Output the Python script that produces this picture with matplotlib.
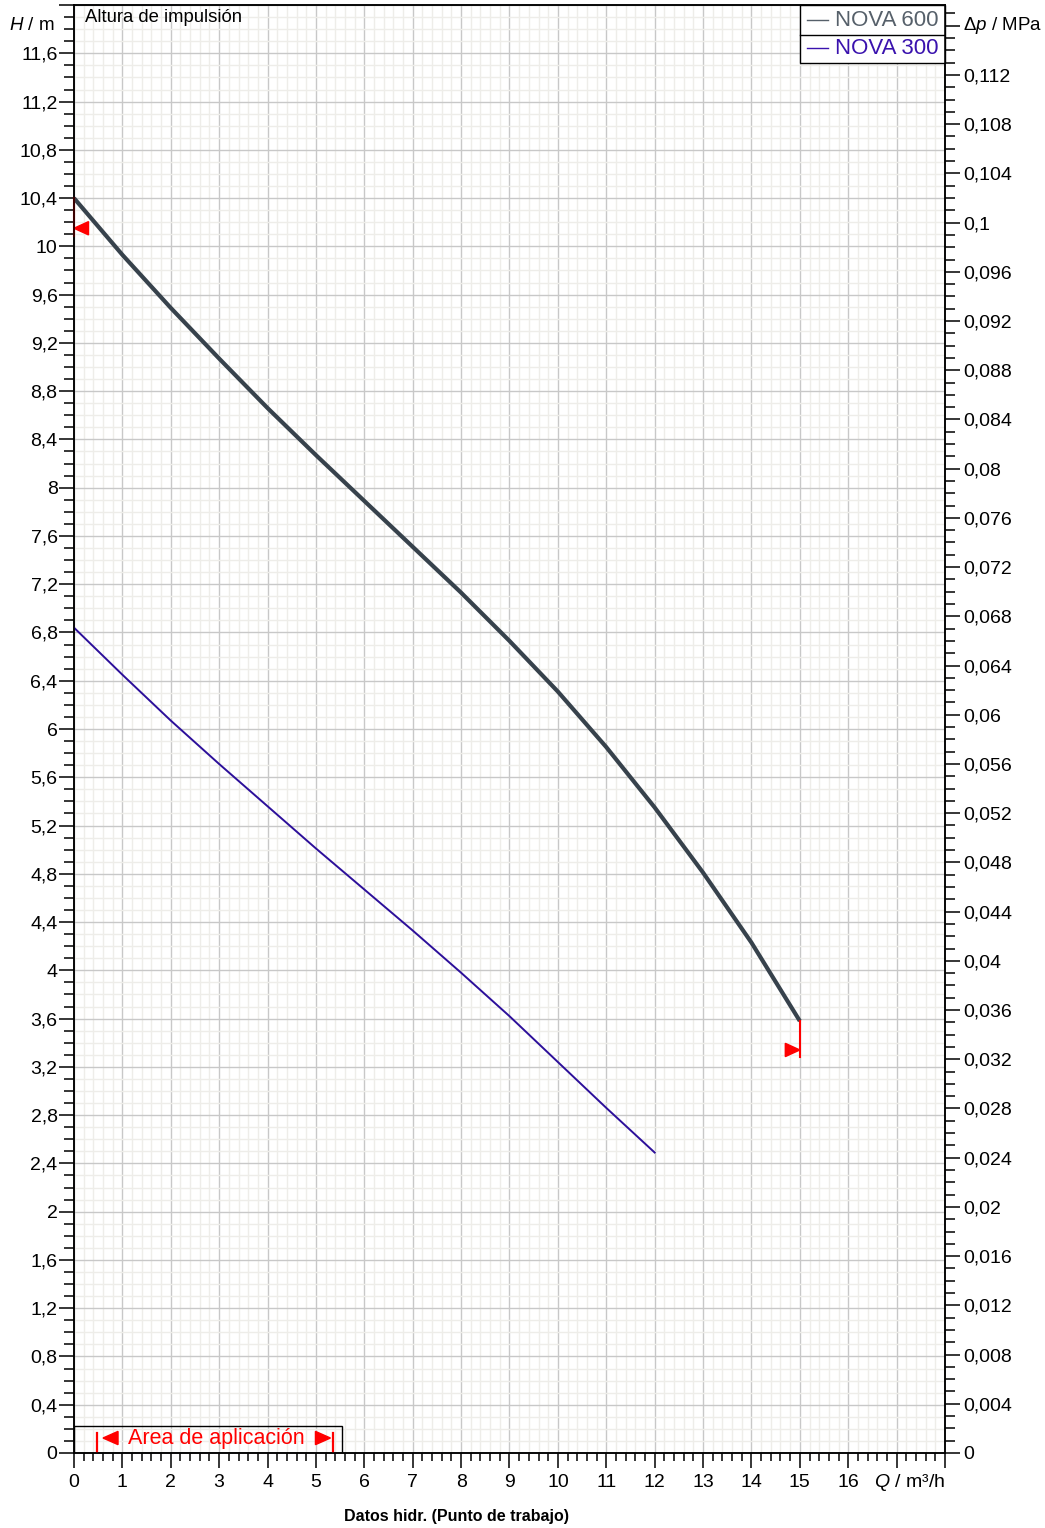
import numpy as np
import matplotlib.pyplot as plt
from matplotlib.ticker import MultipleLocator, FuncFormatter
from matplotlib.patches import Rectangle, Polygon

plt.rcParams['font.family'] = ['Liberation Sans', 'DejaVu Sans']
plt.rcParams['mathtext.fontset'] = 'custom'
plt.rcParams['mathtext.rm'] = 'Liberation Sans'
plt.rcParams['mathtext.it'] = 'Liberation Sans:italic'

# pump curves
q600 = [0, 1, 2, 3, 4, 5, 6, 7, 8, 9, 10, 11, 12, 13, 14, 15]
h600 = [10.40, 9.93, 9.49, 9.07, 8.66, 8.27, 7.89, 7.51, 7.13, 6.73,
        6.31, 5.85, 5.35, 4.81, 4.23, 3.58]
q300 = [0, 1, 2, 3, 4, 5, 6, 7, 8, 9, 10, 11, 12]
h300 = [6.84, 6.45, 6.07, 5.71, 5.36, 5.01, 4.67, 4.33, 3.98, 3.62,
        3.24, 2.86, 2.49]

# working point limits (red markers)
lim_left = (0.0, 10.15)
lim_right = (15.0, 3.34)
area_q = (0.47, 5.35)

m_per_mpa = 101.97
c600 = '#37424c'
c300 = '#2c0f9a'
red = '#ff0000'

fig = plt.figure(figsize=(10.45, 15.28), dpi=100)
ax = fig.add_axes([0.0708, 0.0491, 0.8335, 0.9476])
ax.set_xlim(0, 18)
ax.set_ylim(0, 12)

ax.xaxis.set_major_locator(MultipleLocator(1))
ax.xaxis.set_minor_locator(MultipleLocator(0.2))
ax.yaxis.set_major_locator(MultipleLocator(0.4))
ax.yaxis.set_minor_locator(MultipleLocator(0.1))


def fmt_num(v, dec):
    s = f'{v:.{dec}f}'
    if '.' in s:
        s = s.rstrip('0').rstrip('.')
    return s.replace('.', ',')


ax.xaxis.set_major_formatter(FuncFormatter(lambda v, p: '' if v > 16.5 else fmt_num(v, 0)))
ax.yaxis.set_major_formatter(FuncFormatter(lambda v, p: '' if v > 11.7 else fmt_num(v, 1)))

ax.grid(which='minor', color='#eeede9', lw=1.0)
ax.grid(which='major', color='#c8c8c8', lw=1.0)
ax.set_axisbelow(True)

for s in ax.spines.values():
    s.set_linewidth(1.1)
ax.tick_params(which='major', direction='out', length=10.8, width=1.1, labelsize=14, colors='black')
ax.tick_params(which='minor', direction='out', length=7, width=1.1)
ax.tick_params(axis='x', which='minor', length=5.8)
ax.tick_params(axis='x', which='major', pad=4.5)
ax.tick_params(axis='y', which='major', pad=1)

# right axis in MPa
ax2 = ax.twinx()
ax2.set_ylim(0, 12 / m_per_mpa)
ax2.yaxis.set_major_locator(MultipleLocator(0.004))
ax2.yaxis.set_minor_locator(MultipleLocator(0.001))


def fmt_p(v, p):
    if abs(v - 0.116) < 1e-6:
        return ''
    return fmt_num(v, 3)


ax2.yaxis.set_major_formatter(FuncFormatter(fmt_p))
ax2.tick_params(which='major', direction='out', length=10.8, width=1.1, labelsize=14, pad=2)
ax2.tick_params(which='minor', direction='out', length=7, width=1.1)
for s in ax2.spines.values():
    s.set_linewidth(1.1)

# curves
ax.plot(q600, h600, color=c600, lw=3.0, solid_capstyle='butt', solid_joinstyle='round', zorder=4)
ax.plot(q300, h300, color=c300, lw=1.4, solid_joinstyle='round', zorder=4)

# limit markers
ax.plot([lim_left[0], lim_left[0]], [h600[0], lim_left[1] - 0.06], color=red, lw=1.5, zorder=6, clip_on=False)
ax.add_patch(Polygon([[lim_left[0], lim_left[1]], [lim_left[0] + 0.3, lim_left[1] + 0.055],
                      [lim_left[0] + 0.3, lim_left[1] - 0.055]], closed=True, color=red, zorder=6))
ax.plot([lim_right[0], lim_right[0]], [h600[-1], lim_right[1] - 0.06], color=red, lw=1.5, zorder=6)
ax.add_patch(Polygon([[lim_right[0], lim_right[1]], [lim_right[0] - 0.3, lim_right[1] + 0.055],
                      [lim_right[0] - 0.3, lim_right[1] - 0.055]], closed=True, color=red, zorder=6))

# application area box
ax.add_patch(Rectangle((0, 0), 5.53, 0.22, fill=False, edgecolor='black', lw=1.0, zorder=5))
for qa in area_q:
    ax.plot([qa, qa], [0, 0.165], color=red, lw=1.6, zorder=6)
ax.add_patch(Polygon([[0.60, 0.124], [0.91, 0.179], [0.91, 0.069]], closed=True, color=red, zorder=6))
ax.add_patch(Polygon([[5.30, 0.124], [4.99, 0.179], [4.99, 0.069]], closed=True, color=red, zorder=6))
ax.text(2.94, 0.118, 'Area de aplicación', color=red, fontsize=15.5,
        ha='center', va='center', zorder=6)

# legend box
ax.add_patch(Rectangle((15, 11.52), 3, 0.48, facecolor='white', edgecolor='black', lw=1.0, zorder=7, clip_on=False))
ax.plot([15, 18], [11.75, 11.75], color='black', lw=1.0, zorder=8)
for yy, lab, col in [(11.875, 'NOVA 600', '#56606a'), (11.645, 'NOVA 300', '#3a12ae')]:
    ax.plot([15.14, 15.58], [yy, yy], color=col, lw=1.0, zorder=8)
    ax.text(15.72, yy - 0.005, lab, color=col, fontsize=16, ha='left', va='center', zorder=8)

# axis captions
ax.text(0.22, 11.90, 'Altura de impulsión', fontsize=13.3, ha='left', va='center', zorder=6)
ax.annotate('$H$ / m', xy=(0, 11.83), xytext=(-13.7, 0), textcoords='offset points',
            ha='right', va='center', fontsize=13.5, annotation_clip=False)
ax.annotate(r'$\Delta p$ / MPa', xy=(18, 11.83), xytext=(13.0, 0), textcoords='offset points',
            ha='left', va='center', fontsize=13.5, annotation_clip=False)
ax.annotate('$Q$ / m³/h', xy=(18, 0), xytext=(0, -21.5), textcoords='offset points',
            ha='right', va='center', fontsize=14, annotation_clip=False)
fig.text(0.437, 1 - 1517 / 1528, 'Datos hidr. (Punto de trabajo)', fontsize=11.5, fontweight='bold',
         ha='center', va='center')

fig.savefig('out.png', dpi=100)
